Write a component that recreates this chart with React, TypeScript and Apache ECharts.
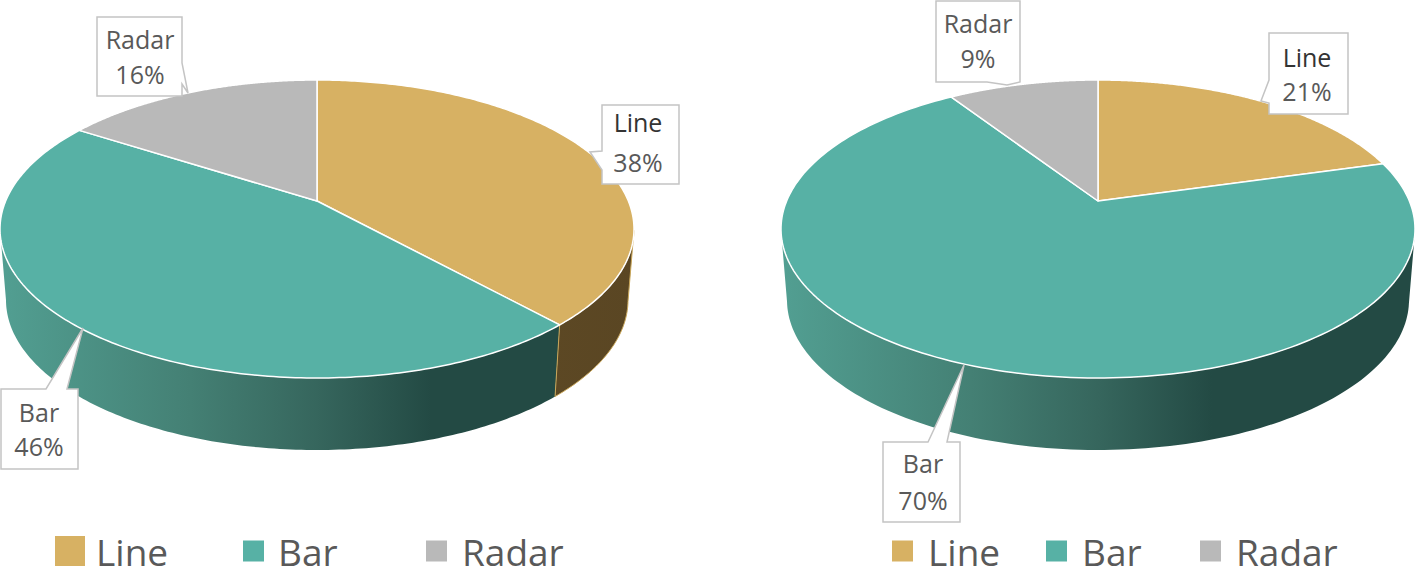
import React, { useEffect, useRef } from "react";
import * as echarts from "echarts";

const categories = ["Line", "Bar", "Radar"];
const leftValues = [38.3, 45.8, 15.9];
const rightValues = [20.6, 70.2, 9.2];
const colors = ["#d7b163", "#57b1a5", "#b9b9b9"];
const wallStops = [
  [
    [0, "#6b5429"],
    [1, "#5a4623"],
  ],
  [
    [0, "#529f92"],
    [0.3, "#448074"],
    [0.5, "#36665d"],
    [0.68, "#234a44"],
    [1, "#234a44"],
  ],
  [
    [0, "#8a8a8a"],
    [1, "#555555"],
  ],
];
const labelColors = ["#333333", "#595959", "#595959"];
const FONT = "'Open Sans', sans-serif";

const pies = [
  { values: leftValues, cx: 317, cy: 229, rx: 317, ry: 149, cyb: 300, rxb: 311, ryb: 150 },
  { values: rightValues, cx: 1098, cy: 229, rx: 317, ry: 149, cyb: 300, rxb: 311, ryb: 150 },
];
const TILT = -0.188;

// per pie, per category: callout box, pointer outline, label centres
const callouts = [
  [
    { pts: [[602, 105], [679, 105], [679, 184], [602, 184], [602, 170], [590, 152], [602, 151]], tx: 638, y1: 122, y2: 162 },
    { pts: [[1, 389], [46, 389], [83, 328], [67, 389], [78, 389], [78, 469], [1, 469]], tx: 39, y1: 412, y2: 446 },
    { pts: [[97, 17], [182, 17], [182, 63], [188, 93], [182, 84], [182, 96], [97, 96]], tx: 140, y1: 39, y2: 74 },
  ],
  [
    { pts: [[1269, 33], [1348, 33], [1348, 114], [1269, 114], [1269, 103], [1261, 101], [1269, 80]], tx: 1307, y1: 57, y2: 91 },
    { pts: [[883, 442], [928, 442], [964, 365], [947, 442], [960, 442], [960, 522], [883, 522]], tx: 923, y1: 463, y2: 500 },
    { pts: [[936, 1], [1020, 1], [1020, 82], [1007, 85], [987, 82], [936, 82]], tx: 978, y1: 23, y2: 58 },
  ],
];

const legendLayout = [
  { name: "Line", left: 55, icon: 30, gap: 6, size: 37 },
  { name: "Bar", left: 243, icon: 21, gap: 9, size: 37 },
  { name: "Radar", left: 426, icon: 21, gap: 10, size: 37 },
  { name: "Line", left: 892, icon: 21, gap: 10, size: 37 },
  { name: "Bar", left: 1046, icon: 21, gap: 10, size: 37 },
  { name: "Radar", left: 1200, icon: 21, gap: 10, size: 37 },
];

function boundary(turn: number) {
  const t = turn * 2 * Math.PI;
  const u = Math.sin(t);
  const v = -Math.cos(t);
  const d = 1 + TILT * v;
  return { u: (u * Math.sqrt(1 - TILT * TILT)) / d, v: (v + TILT) / d };
}

function makeSlice(pieIndex: number, catIndex: number) {
  const pie = pies[pieIndex];
  const total = pie.values.reduce((a, b) => a + b, 0);
  const start = pie.values.slice(0, catIndex).reduce((a, b) => a + b, 0) / total;
  const value = pie.values[catIndex];
  const end = start + value / total;
  const call = callouts[pieIndex][catIndex];
  return {
    type: "custom",
    name: categories[catIndex],
    coordinateSystem: "none",
    silent: true,
    itemStyle: { color: colors[catIndex] },
    data: [[value]],
    renderItem: () => {
      const n = 200;
      const top: number[][] = [[pie.cx, pie.cy + TILT * pie.ry]];
      const wallUp: number[][] = [];
      const wallDown: number[][] = [];
      for (let i = 0; i <= n; i++) {
        const b = boundary(start + ((end - start) * i) / n);
        top.push([pie.cx + pie.rx * b.u, pie.cy + pie.ry * b.v]);
        if (b.v >= 0) {
          wallUp.push([pie.cx + pie.rx * b.u, pie.cy + pie.ry * b.v]);
          wallDown.unshift([pie.cx + pie.rxb * b.u, pie.cyb + pie.ryb * b.v]);
        }
      }
      const children: any[] = [];
      if (wallUp.length > 1) {
        children.push({
          type: "polygon",
          z2: catIndex === 0 ? 2 : 1,
          shape: { points: [...wallUp, ...wallDown] },
          style: {
            fill: new echarts.graphic.LinearGradient(
              pie.cx - pie.rx, 0, pie.cx + pie.rx, 0,
              wallStops[catIndex].map(([offset, color]) => ({ offset, color })) as any,
              true,
            ),
            stroke: catIndex === 0 ? "#c9a658" : "none",
            lineWidth: catIndex === 0 ? 1 : 0,
          },
        });
      }
      children.push({
        type: "polygon",
        z2: 3,
        shape: { points: top },
        style: { fill: colors[catIndex], stroke: "#ffffff", lineWidth: 1.5, lineJoin: "round" },
      });
      children.push({
        type: "polygon",
        z2: 10,
        shape: { points: call.pts },
        style: { fill: "#ffffff", stroke: "#c4c4c4", lineWidth: 1.5 },
      });
      const text = (content: string, y: number, fill: string) => ({
        type: "text",
        z2: 11,
        style: {
          x: call.tx,
          y,
          text: content,
          fill,
          font: `25px ${FONT}`,
          align: "center",
          verticalAlign: "middle",
        },
      });
      children.push(text(categories[catIndex], call.y1, labelColors[catIndex]));
      children.push(text(`${Math.round(value)}%`, call.y2, "#595959"));
      return { type: "group", children };
    },
  };
}

export default function App() {
  const ref = useRef<HTMLDivElement>(null);
  useEffect(() => {
    document.body.style.margin = "0";
    const chart = echarts.init(ref.current!, undefined, { renderer: "svg" });
    chart.setOption({
      animation: false,
      backgroundColor: "#ffffff",
      legend: legendLayout.map((l) => ({
        left: l.left,
        top: 531.5,
        padding: 0,
        icon: "rect",
        itemWidth: l.icon,
        itemHeight: l.icon,
        selectedMode: false,
        data: [{ name: l.name, itemStyle: { color: colors[categories.indexOf(l.name)] } }],
        textStyle: {
          fontFamily: FONT,
          fontSize: l.size,
          color: "#595959",
          lineHeight: 33,
          padding: [0, 0, 6, l.gap],
        },
      })),
      series: pies.flatMap((_, p) => categories.map((_c, c) => makeSlice(p, c))),
    });
    return () => chart.dispose();
  }, []);
  return <div ref={ref} style={{ width: 1415, height: 567 }} />;
}
